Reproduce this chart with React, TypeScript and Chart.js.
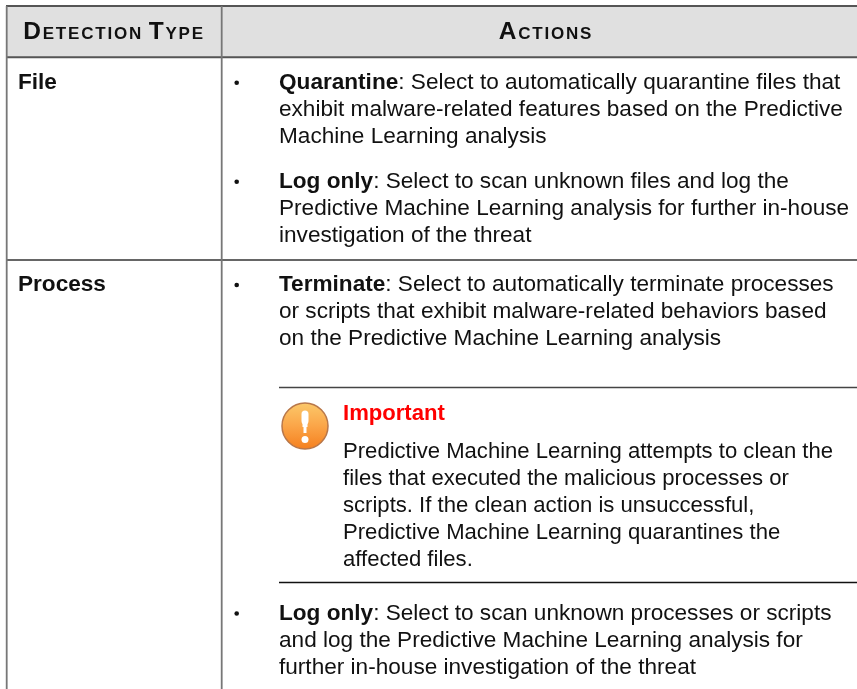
import React, { useEffect, useRef } from "react";
import { Chart, registerables } from "chart.js";

Chart.register(...registerables);

const WIDTH = 857;
const HEIGHT = 689;
const FONT = '"Liberation Sans", Arial, sans-serif';
const BODY_SIZE = 22.6;
const NOTE_SIZE = 22.1;
const LINE = 27;

const headers = ["Detection Type", "Actions"];
const rowLabels = ["File", "Process"];

const fileQuarantine = [
  "Select to automatically quarantine files that",
  "exhibit malware-related features based on the Predictive",
  "Machine Learning analysis",
];
const fileLog = [
  "Select to scan unknown files and log the",
  "Predictive Machine Learning analysis for further in-house",
  "investigation of the threat",
];
const processTerminate = [
  "Select to automatically terminate processes",
  "or scripts that exhibit malware-related behaviors based",
  "on the Predictive Machine Learning analysis",
];
const noteTitle = "Important";
const noteBody = [
  "Predictive Machine Learning attempts to clean the",
  "files that executed the malicious processes or",
  "scripts. If the clean action is unsuccessful,",
  "Predictive Machine Learning quarantines the",
  "affected files.",
];
const processLog = [
  "Select to scan unknown processes or scripts",
  "and log the Predictive Machine Learning analysis for",
  "further in-house investigation of the threat",
];

const bulletBlocks = [
  { lead: "Quarantine", lines: fileQuarantine, y: 89 },
  { lead: "Log only", lines: fileLog, y: 188 },
  { lead: "Terminate", lines: processTerminate, y: 291 },
  { lead: "Log only", lines: processLog, y: 620 },
];

const line = (pts: number[][], color: string, w: number, extra: object = {}) => ({
  type: "line" as const,
  data: pts.map(([x, y]) => ({ x, y })),
  borderColor: color,
  borderWidth: w,
  pointRadius: 0,
  tension: 0,
  ...extra,
});

const textPlugin = {
  id: "tableText",
  afterDatasetsDraw(chart: any) {
    const ctx = chart.ctx as CanvasRenderingContext2D;
    ctx.save();
    ctx.textBaseline = "alphabetic";
    ctx.textAlign = "left";
    ctx.fillStyle = "#111";

    // Header cells, bold small caps
    ctx.font = `small-caps bold 24.5px ${FONT}`;
    (ctx as any).letterSpacing = "1.8px";
    (ctx as any).wordSpacing = "-3px";
    ctx.textAlign = "center";
    ctx.fillText(headers[0], 114, 39);
    ctx.fillText(headers[1], 546, 39);
    (ctx as any).letterSpacing = "0px";
    (ctx as any).wordSpacing = "0px";
    ctx.textAlign = "left";

    ctx.font = `bold ${BODY_SIZE}px ${FONT}`;
    ctx.fillText(rowLabels[0], 18, 89);
    ctx.fillText(rowLabels[1], 18, 291);

    for (const b of bulletBlocks) {
      ctx.font = `bold ${BODY_SIZE}px ${FONT}`;
      ctx.fillText(b.lead, 279, b.y);
      const leadW = ctx.measureText(b.lead).width;
      ctx.font = `${BODY_SIZE}px ${FONT}`;
      ctx.fillText(": " + b.lines[0], 279 + leadW, b.y);
      b.lines.slice(1).forEach((t, i) => ctx.fillText(t, 279, b.y + LINE * (i + 1)));
    }

    ctx.font = `bold ${NOTE_SIZE}px ${FONT}`;
    ctx.fillStyle = "#ff0000";
    ctx.fillText(noteTitle, 343, 420);
    ctx.fillStyle = "#111";
    ctx.font = `${NOTE_SIZE}px ${FONT}`;
    noteBody.forEach((t, i) => ctx.fillText(t, 343, 458 + LINE * i));
    ctx.restore();
  },
};

export default function App() {
  const ref = useRef<HTMLCanvasElement>(null);
  useEffect(() => {
    document.body.style.margin = "0";
    const canvas = ref.current!;
    const ctx = canvas.getContext("2d")!;
    const grad = ctx.createLinearGradient(0, 403, 0, 449);
    grad.addColorStop(0, "#fbc86a");
    grad.addColorStop(0.5, "#fba548");
    grad.addColorStop(1, "#f5801f");

    const chart = new Chart(canvas, {
      type: "scatter",
      data: {
        datasets: [
          // icon exclamation mark
          { type: "scatter", data: [{ x: 305, y: 439.5 }], pointRadius: 3.5, backgroundColor: "#ffffff", borderWidth: 0 },
          line([[305, 414], [305, 421]], "#ffffff", 7, { borderCapStyle: "round" }),
          line([[305, 421], [305, 427]], "#ffffff", 5),
          line([[305, 427], [305, 433]], "#ffffff", 3),
          { type: "scatter", data: [{ x: 305, y: 426 }], pointRadius: 23, backgroundColor: grad, borderColor: "#b8774a", borderWidth: 1.5 },
          // bullets
          {
            type: "scatter",
            data: [
              { x: 236.7, y: 82.7 },
              { x: 236.7, y: 181.7 },
              { x: 236.7, y: 285 },
              { x: 236.7, y: 613.5 },
            ],
            pointRadius: 2.3,
            backgroundColor: "#111",
            borderWidth: 0,
          },
          // note rules
          line([[279, 387.5], [857, 387.5]], "#444", 1.5),
          line([[279, 582.5], [857, 582.5]], "#111", 1.5),
          // table borders
          line([[6.7, 6], [6.7, 689]], "#777", 1.8),
          line([[221.7, 6], [221.7, 689]], "#777", 1.8),
          line([[6, 6], [857, 6]], "#555", 2),
          line([[6, 57.3], [857, 57.3]], "#555", 2),
          line([[6, 260], [857, 260]], "#666", 1.8),
          // header fill
          line([[6, 6], [857, 6]], "rgba(0,0,0,0)", 0, { fill: { value: 57 }, backgroundColor: "#e0e0e0" }),
        ],
      },
      options: {
        animation: false,
        responsive: false,
        layout: { padding: 0, autoPadding: false },
        plugins: { legend: { display: false }, tooltip: { enabled: false }, title: { display: false } },
        scales: {
          x: { type: "linear", min: 0, max: WIDTH, display: false },
          y: { type: "linear", min: 0, max: HEIGHT, reverse: true, display: false },
        },
      },
      plugins: [textPlugin],
    } as any);
    return () => chart.destroy();
  }, []);
  return <canvas ref={ref} width={WIDTH} height={HEIGHT} style={{ display: "block", background: "#fff" }} />;
}
